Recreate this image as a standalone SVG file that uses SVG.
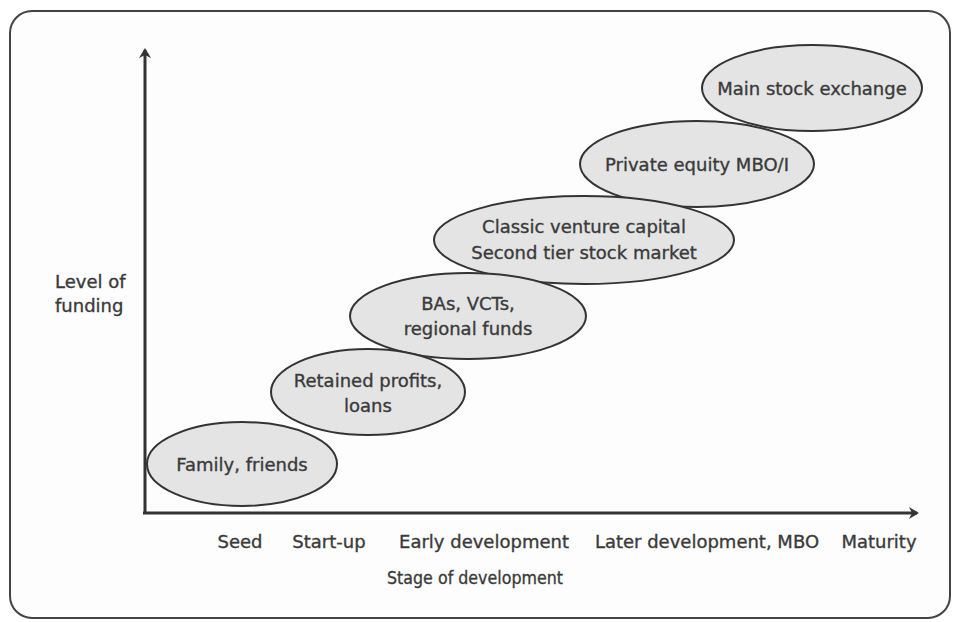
<svg xmlns="http://www.w3.org/2000/svg" width="954" height="622" viewBox="0 0 954 622">
<style>
.t{font-family:"DejaVu Sans","Liberation Sans",sans-serif;font-size:18px;fill:#3a3a3a;stroke:#3a3a3a;stroke-width:0.35;text-anchor:middle}
.l{font-family:"DejaVu Sans","Liberation Sans",sans-serif;font-size:18px;fill:#3a3a3a;stroke:#3a3a3a;stroke-width:0.35}
.e{fill:#e4e4e4;stroke:#333;stroke-width:2}
.ax{stroke:#333;stroke-width:3;fill:none}
</style>
<defs>
<marker id="ah" markerWidth="10" markerHeight="12" refX="8" refY="6" orient="auto" markerUnits="userSpaceOnUse">
<path d="M0,0 L10,6 L0,12 L3,6 Z" fill="#333"/>
</marker>
</defs>
<rect x="0" y="0" width="954" height="622" fill="#fff"/>
<rect x="10" y="11" width="940" height="607" rx="22" ry="22" fill="#fdfdfd" stroke="#444" stroke-width="2"/>
<g id="connectors">
<line class="ax" x1="145" y1="514" x2="145" y2="50" marker-end="url(#ah)"/>
<line class="ax" x1="143" y1="513" x2="917" y2="513" marker-end="url(#ah)"/>
</g>
<g id="n6"><ellipse class="e" cx="812" cy="88" rx="110" ry="43"/><text class="t" x="812" y="95">Main stock exchange</text></g>
<g id="n5"><ellipse class="e" cx="697" cy="164" rx="117" ry="43"/><text class="t" x="697" y="171">Private equity MBO/I</text></g>
<g id="n4"><ellipse class="e" cx="584" cy="240" rx="150" ry="44"/><text class="t" x="584" y="233">Classic venture capital</text><text class="t" x="584" y="259">Second tier stock market</text></g>
<g id="n3"><ellipse class="e" cx="468" cy="316" rx="118" ry="43"/><text class="t" x="468" y="310">BAs, VCTs,</text><text class="t" x="468" y="335">regional funds</text></g>
<g id="n2"><ellipse class="e" cx="368" cy="392" rx="97" ry="43"/><text class="t" x="368" y="387">Retained profits,</text><text class="t" x="368" y="412">loans</text></g>
<g id="n1"><ellipse class="e" cx="242" cy="464" rx="95" ry="42"/><text class="t" x="242" y="471">Family, friends</text></g>
<g id="labels">
<text class="l" x="55" y="288">Level of</text>
<text class="l" x="55" y="312">funding</text>
<text class="t" x="240" y="548">Seed</text>
<text class="t" x="329" y="548">Start-up</text>
<text class="t" x="484" y="548">Early development</text>
<text class="t" x="707" y="548">Later development, MBO</text>
<text class="t" x="879" y="548">Maturity</text>
<text class="t" x="475" y="584" textLength="176" lengthAdjust="spacingAndGlyphs">Stage of development</text>
</g>
</svg>
